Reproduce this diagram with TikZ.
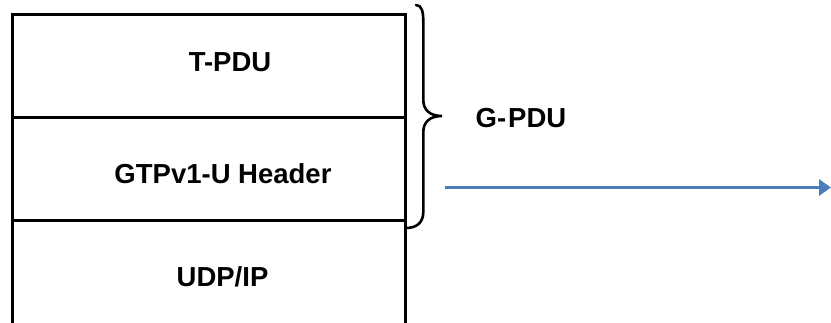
\documentclass[tikz,border=0pt]{standalone}
\usepackage{fontspec}
\setmainfont{Liberation Sans}
\usetikzlibrary{arrows.meta}
\definecolor{arrowblue}{RGB}{74,126,187}
\tikzset{
  layer/.style={draw=black, line width=3pt, rectangle, inner sep=0pt, anchor=north west},
  layertext/.style={font=\fontsize{27.5}{31}\selectfont\bfseries, inner sep=0pt},
  bracepath/.style={draw=black, line width=2.6pt, line cap=round},
  flow/.style={draw=arrowblue, line width=3pt, -{Triangle[length=12pt,width=16pt]}}
}
\begin{document}
\begin{tikzpicture}[x=1pt, y=-1pt]
  \useasboundingbox (0,0) rectangle (831,322);

  % protocol stack layers
  \node[layer, minimum width=393pt, minimum height=103pt] (tpdu) at (11,12.7) {};
  \node[layer, minimum width=393pt, minimum height=103.3pt] (hdr) at (11,115.7) {};
  \node[layer, minimum width=393pt, minimum height=125pt] (udp) at (11,219) {};

  \node[layertext] (tpdutxt) at (230,62.5) {T-PDU};
  \node[layertext] (hdrtxt) at (223,174) {GTPv1-U Header};
  \node[layertext] (udptxt) at (222.5,276.7) {UDP/IP};

  % curly brace grouping T-PDU and header
  \path[bracepath] (416,5) .. controls (422,5) and (423.3,12) .. (423.3,22)
    -- (423.3,100) .. controls (423.3,110) and (430,116) .. (442,116)
    .. controls (430,116) and (423.3,122) .. (423.3,132)
    -- (423.3,212) .. controls (423.3,223) and (416,228) .. (406,228);

  \node[layertext] (gpdu) at (521,118) {G-\hspace{2pt}PDU};

  % outgoing arrow
  \coordinate (arrowstart) at (445,187.5);
  \coordinate (arrowend) at (831,187.5);
  \draw[flow] (arrowstart) -- (arrowend);
\end{tikzpicture}
\end{document}
